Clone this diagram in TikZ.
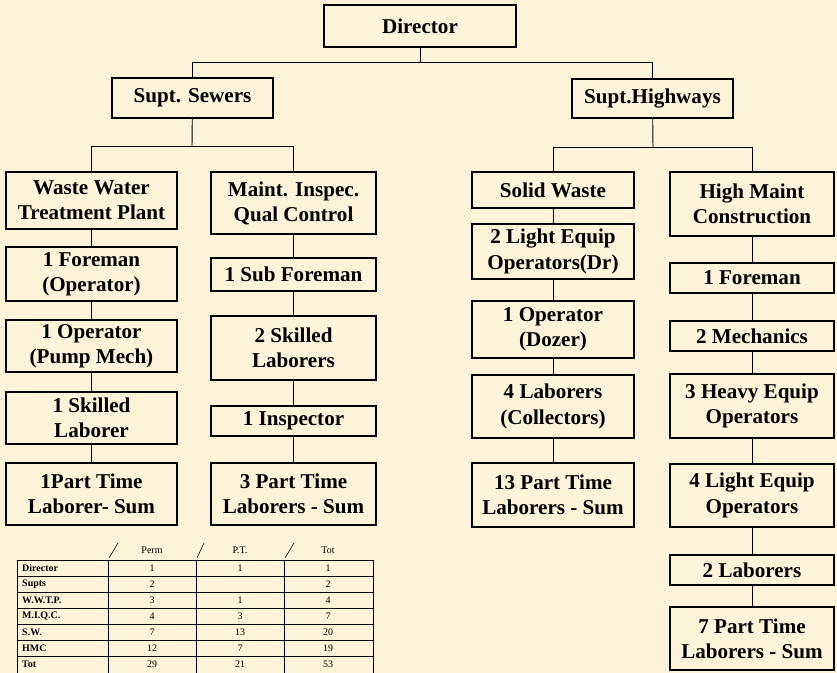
\documentclass[tikz,border=0pt]{standalone}
\usepackage{fontspec}
\setmainfont{Liberation Serif}
\usepackage{tikz}
\usetikzlibrary{positioning, calc}
\definecolor{paper}{HTML}{FBF4DA}

\tikzset{
  box/.style={draw, line width=0.9pt, align=center, inner sep=0pt,
    font=\bfseries\fontsize{18}{21.5}\selectfont},
  colA/.style={box, minimum width=5.13cm},
  colB/.style={box, minimum width=4.95cm},
  colC/.style={box, minimum width=4.86cm},
  colD/.style={box, minimum width=4.92cm},
  link/.style={line width=0.8pt},
  cell/.style={font=\fontsize{8.5}{9}\selectfont, inner sep=0pt},
  rowhead/.style={cell, font=\bfseries\fontsize{8.5}{9}\selectfont, anchor=west}
}

\begin{document}
\begin{tikzpicture}[x=0.03cm, y=-0.03cm]
% page and paper
\useasboundingbox (0,0) rectangle (837,673);
\fill[paper] (0,0) rectangle (837,673);

% top levels
\node[box, minimum width=5.76cm, minimum height=1.26cm] (dir) at (420,26) {Director};
\node[box, minimum width=4.83cm, minimum height=1.2cm] (sew) at (192.5,98) {Supt. Sewers};
\node[box, minimum width=4.83cm, minimum height=1.17cm] (hwy) at (652.5,98.5) {Supt.Highways};

% sewers: waste water
\node[colA, minimum height=1.71cm] (wwtp) at (91.5,200.5) {Waste Water\\Treatment Plant};
\node[colA, minimum height=1.62cm] (foreA) at (91.5,274) {1 Foreman\\(Operator)};
\node[colA, minimum height=1.56cm] (operA) at (91.5,346) {1 Operator\\(Pump Mech)};
\node[colA, minimum height=1.56cm] (skilA) at (91.5,418) {1 Skilled\\Laborer};
\node[colA, minimum height=1.86cm] (partA) at (91.5,494) {1Part Time\\Laborer- Sum};

% sewers: inspection
\node[colB, minimum height=1.86cm] (miqc) at (293.5,203) {Maint. Inspec.\\Qual Control};
\node[colB, minimum height=0.99cm] (subB) at (293.5,274.5) {1 Sub Foreman};
\node[colB, minimum height=1.92cm] (skilB) at (293.5,348) {2 Skilled\\Laborers};
\node[colB, minimum height=0.9cm] (inspB) at (293.5,421) {1 Inspector};
\node[colB, minimum height=1.86cm] (partB) at (293.5,494) {3 Part Time\\Laborers - Sum};

% highways: solid waste
\node[colC, minimum height=1.08cm] (sw) at (553,190) {Solid Waste};
\node[colC, minimum height=1.65cm] (ligC) at (553,251.5) {2 Light Equip\\Operators(Dr)};
\node[colC, minimum height=1.71cm] (dozC) at (553,329.5) {1 Operator\\(Dozer)};
\node[colC, minimum height=1.89cm] (labC) at (553,406.5) {4 Laborers\\(Collectors)};
\node[colC, minimum height=1.92cm] (partC) at (553,495) {13 Part Time\\Laborers - Sum};

% highways: maintenance
\node[colD, minimum height=1.92cm] (hmc) at (752,204) {High Maint\\Construction};
\node[colD, minimum height=0.9cm] (foreD) at (752,278) {1 Foreman};
\node[colD, minimum height=0.9cm] (mechD) at (752,336) {2 Mechanics};
\node[colD, minimum height=1.92cm] (heqD) at (752,406) {3 Heavy Equip\\Operators};
\node[colD, minimum height=1.89cm] (leqD) at (752,495.5) {4 Light Equip\\Operators};
\node[colD, minimum height=0.9cm] (labD) at (752,570) {2 Laborers};
\node[colD, minimum height=1.89cm] (partD) at (752,638.5) {7 Part Time\\Laborers - Sum};

% bus lines
\coordinate (topbus) at (420,62);
\coordinate (sewbus) at (192,146);
\coordinate (hwybus) at (653,147);

\draw[link] (dir) -- (dir |- topbus);
\draw[link] (sew.north) -- (sew.north |- topbus) -- (hwy.north |- topbus) -- (hwy.north);
\draw[link] (sew) -- (sewbus);
\draw[link] (wwtp.north) -- (wwtp.north |- sewbus) -- (miqc.north |- sewbus) -- (miqc.north);
\draw[link] (hwy) -- (hwybus);
\draw[link] (sw.north) -- (sw.north |- hwybus) -- (hmc.north |- hwybus) -- (hmc.north);

\foreach \a/\b in {wwtp/foreA, foreA/operA, operA/skilA, skilA/partA,
                   miqc/subB, subB/skilB, skilB/inspB, inspB/partB,
                   sw/ligC, ligC/dozC, dozC/labC, labC/partC,
                   hmc/foreD, foreD/mechD, mechD/heqD, heqD/leqD, leqD/labD, labD/partD}
  \draw[link] (\a) -- (\b);

% staff table
\node[cell] (hPerm) at (152,550) {Perm};
\node[cell] (hPT) at (240,550) {P.T.};
\node[cell] (hTot) at (328,550) {Tot};
\foreach \x/\y in {118/109, 204/197, 294/285}
  \draw[line width=0.5pt] (\x,543) -- (\y,558);

\draw[line width=0.7pt] (17,560) rectangle (373,690);
\foreach \y in {576,592,608,624,640,656}
  \draw[line width=0.5pt] (17,\y) -- (373,\y);
\foreach \x in {108,196,284}
  \draw[line width=0.5pt] (\x,560) -- (\x,690);

\foreach \y/\lab/\p/\t/\s in {568/Director/1/1/1, 584/Supts/2//2,
    600/W.W.T.P./3/1/4, 616/M.I.Q.C./4/3/7, 632/S.W./7/13/20,
    648/HMC/12/7/19, 664/Tot/29/21/53}{
  \node[rowhead] at (22,\y) {\lab};
  \node[cell] at (152,\y) {\p};
  \node[cell] at (240,\y) {\t};
  \node[cell] at (328,\y) {\s};
}
\end{tikzpicture}
\end{document}
